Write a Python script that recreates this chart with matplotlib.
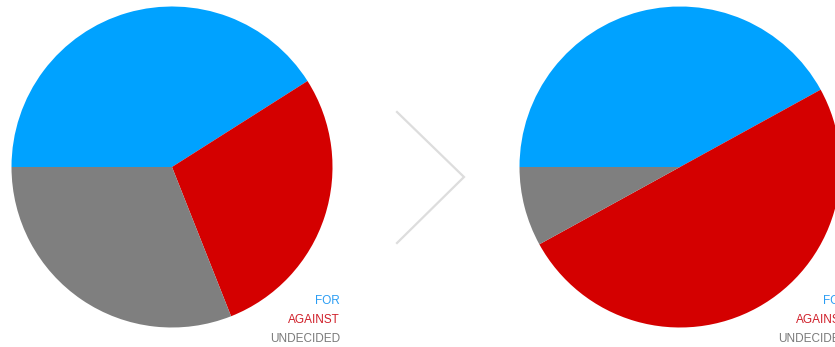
import matplotlib.pyplot as plt

# shares (percent)
labels = ["FOR", "AGAINST", "UNDECIDED"]
before = [41, 28, 31]
after = [42, 50, 8]
colors = ["#00A2FF", "#D40000", "#7F7F7F"]
text_colors = ["#2A9DF4", "#D0202A", "#7A7A7A"]

W, H = 835, 347
fig = plt.figure(figsize=(W / 100, H / 100), dpi=100)
ax = fig.add_axes([0, 0, 1, 1])

def draw_pie(values, cx):
    ax.pie(values, colors=colors, startangle=180, counterclock=False,
           center=(cx, H - 167), radius=160.5, frame=True,
           wedgeprops=dict(linewidth=0))
    # stacked labels, right aligned, lower right of the pie
    for i, (lab, c) in enumerate(zip(labels, text_colors)):
        ax.text(cx + 168, H - (301 + 19 * i), lab, color=c, ha="right",
                va="center", fontsize=8.5, family="Liberation Sans")

draw_pie(before, 172)
draw_pie(after, 680)

# chevron between the pies
ax.plot([397, 464, 397], [H - 112, H - 177, H - 243], color="#DDDDDD",
        lw=1.6, solid_joinstyle="miter")

ax.set_xlim(0, W)
ax.set_ylim(0, H)
ax.set_aspect("equal")
ax.axis("off")

fig.savefig("out.png", dpi=100)
